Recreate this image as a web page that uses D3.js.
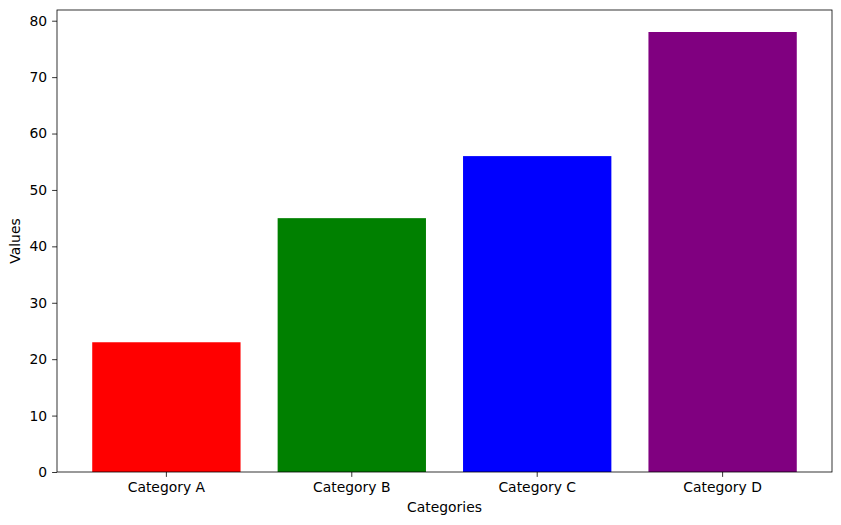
<!DOCTYPE html>
<html><head><meta charset="utf-8">
<script src="https://cdn.jsdelivr.net/npm/d3@7"></script>
<style>body{margin:0;background:#fff}svg{display:block}text{font-family:"DejaVu Sans",sans-serif}</style>
</head><body>
<script>
const categories = ["Category A","Category B","Category C","Category D"];
const values = [23,45,56,78];
const colors = ["red","green","blue","purple"];
const yTicks = [0,10,20,30,40,50,60,70,80];

const W=841,H=525;
const m={left:57,right:9,top:10,bottom:53};
const FS=13.9;
const svg=d3.select("body").append("svg").attr("width",W).attr("height",H);
const x=d3.scaleBand().domain(categories).range([m.left,W-m.right]).paddingInner(0.2).paddingOuter(0.19);
const y=d3.scaleLinear().domain([0,d3.max(values)*1.05]).range([H-m.bottom,m.top]);

svg.selectAll("rect.bar").data(values).join("rect").attr("class","bar")
 .attr("x",(d,i)=>x(categories[i])).attr("width",x.bandwidth())
 .attr("y",d=>y(d)).attr("height",d=>y(0)-y(d)).attr("fill",(d,i)=>colors[i]);

const xa=svg.append("g").attr("transform",`translate(0,${H-m.bottom})`)
 .call(d3.axisBottom(x).tickSize(4.9).tickPadding(4.9));
const ya=svg.append("g").attr("transform",`translate(${m.left},0)`)
 .call(d3.axisLeft(y).tickValues(yTicks).tickSize(4.9).tickPadding(4.9));
[xa,ya].forEach(a=>{a.select(".domain").remove();a.selectAll("text").attr("font-size",FS).attr("fill","#000").style("font-family","DejaVu Sans");a.selectAll("line").attr("stroke","#000").attr("stroke-width",0.8);});

svg.append("rect").attr("x",m.left).attr("y",m.top).attr("width",W-m.left-m.right).attr("height",H-m.top-m.bottom)
 .attr("fill","none").attr("stroke","#000").attr("stroke-width",0.8);

svg.append("text").attr("x",(m.left+W-m.right)/2).attr("y",512).attr("text-anchor","middle").attr("font-size",FS).text("Categories");
svg.append("text").attr("transform",`translate(20,${(m.top+H-m.bottom)/2}) rotate(-90)`).attr("text-anchor","middle").attr("font-size",FS).text("Values");
</script>
</body></html>
